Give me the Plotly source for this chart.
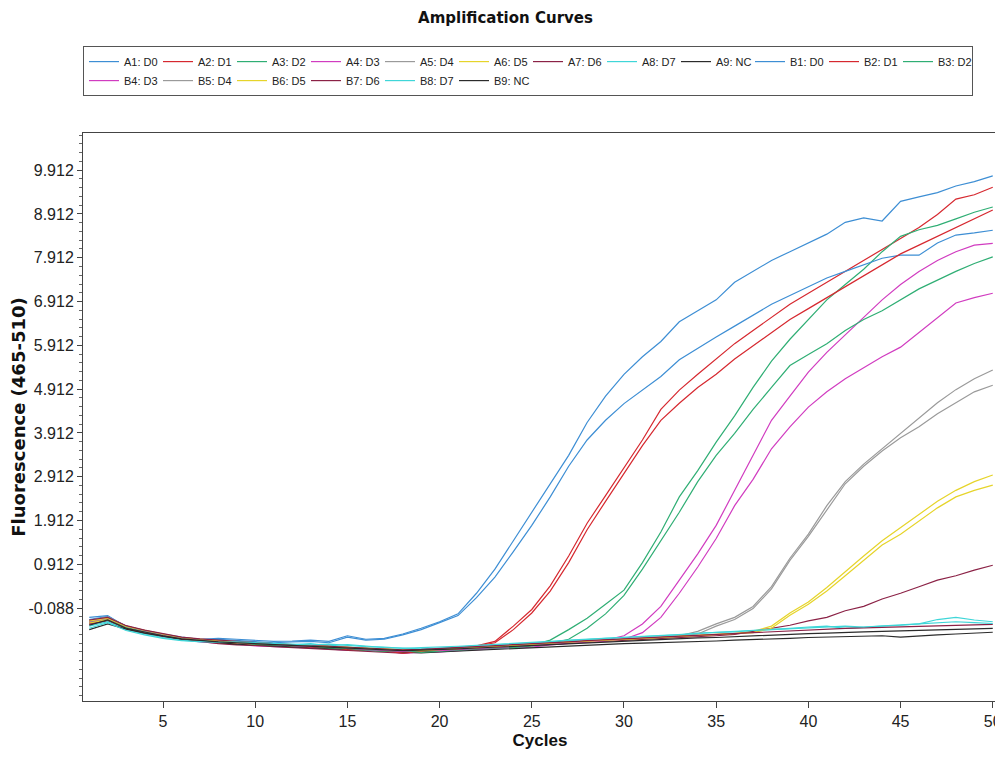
import plotly.graph_objects as go

cycles = list(range(1, 51))

names = ["A1: D0", "A2: D1", "A3: D2", "A4: D3", "A5: D4", "A6: D5", "A7: D6", "A8: D7", "A9: NC",
         "B1: D0", "B2: D1", "B3: D2", "B4: D3", "B5: D4", "B6: D5", "B7: D6", "B8: D7", "B9: NC"]

A1 = [-0.35,-0.28,-0.50,-0.60,-0.68,-0.75,-0.80,-0.78,-0.80,-0.82,-0.85,-0.84,-0.82,-0.85,-0.72,-0.80,-0.78,-0.68,-0.55,-0.40,
      -0.22,0.25,0.80,1.45,2.10,2.75,3.40,4.15,4.75,5.25,5.65,6.00,6.45,6.70,6.95,7.35,7.60,7.85,8.05,8.25,
      8.45,8.72,8.82,8.75,9.20,9.30,9.40,9.55,9.65,9.78]
A2 = [-0.42,-0.34,-0.55,-0.64,-0.72,-0.80,-0.85,-0.88,-0.92,-0.90,-0.95,-0.97,-0.94,-1.00,-1.02,-1.00,-1.08,-1.10,-1.05,-1.02,
      -0.98,-0.95,-0.85,-0.50,-0.12,0.42,1.10,1.85,2.48,3.10,3.75,4.45,4.89,5.25,5.60,5.95,6.25,6.55,6.85,7.10,
      7.35,7.60,7.85,8.10,8.35,8.60,8.90,9.25,9.35,9.52]
A3 = [-0.45,-0.36,-0.54,-0.63,-0.71,-0.79,-0.83,-0.87,-0.90,-0.91,-0.94,-0.96,-0.98,-0.99,-1.02,-1.04,-1.06,-1.09,-1.08,-1.07,
      -1.04,-1.03,-1.00,-0.98,-0.94,-0.82,-0.58,-0.32,0.00,0.32,0.95,1.65,2.45,3.05,3.70,4.30,4.95,5.55,6.05,6.50,
      6.95,7.30,7.65,8.05,8.40,8.55,8.65,8.80,8.95,9.07]
A4 = [-0.44,-0.35,-0.56,-0.65,-0.73,-0.80,-0.86,-0.89,-0.91,-0.95,-0.96,-0.98,-1.00,-1.02,-1.05,-1.03,-1.08,-1.12,-1.10,-1.09,
      -1.06,-1.04,-1.01,-0.99,-0.98,-0.93,-0.90,-0.86,-0.82,-0.72,-0.45,-0.05,0.55,1.15,1.80,2.60,3.40,4.20,4.75,5.30,
      5.75,6.15,6.55,6.95,7.30,7.60,7.85,8.05,8.20,8.24]
A5 = [-0.41,-0.33,-0.52,-0.62,-0.70,-0.78,-0.82,-0.85,-0.89,-0.90,-0.92,-0.95,-0.96,-0.98,-1.00,-1.01,-1.04,-1.06,-1.07,-1.03,
      -1.02,-0.99,-0.96,-0.94,-0.92,-0.89,-0.87,-0.84,-0.82,-0.80,-0.78,-0.76,-0.72,-0.62,-0.45,-0.30,-0.05,0.40,1.05,1.60,
      2.25,2.80,3.20,3.55,3.90,4.25,4.60,4.90,5.15,5.35]
A6 = [-0.43,-0.36,-0.55,-0.64,-0.72,-0.79,-0.84,-0.88,-0.90,-0.92,-0.95,-0.97,-0.99,-1.00,-1.03,-1.05,-1.07,-1.09,-1.08,-1.06,
      -1.03,-1.01,-0.98,-0.96,-0.93,-0.91,-0.88,-0.86,-0.84,-0.81,-0.79,-0.77,-0.74,-0.72,-0.70,-0.67,-0.62,-0.50,-0.20,0.05,
      0.38,0.75,1.10,1.45,1.75,2.05,2.35,2.60,2.80,2.95]
A7 = [-0.46,-0.38,-0.56,-0.66,-0.74,-0.81,-0.85,-0.90,-0.93,-0.94,-0.97,-0.99,-1.01,-1.03,-1.05,-1.07,-1.10,-1.12,-1.09,-1.07,
      -1.05,-1.02,-1.00,-0.97,-0.95,-0.92,-0.89,-0.87,-0.84,-0.82,-0.80,-0.78,-0.76,-0.74,-0.72,-0.69,-0.62,-0.55,-0.48,-0.38,
      -0.30,-0.15,-0.05,0.12,0.25,0.40,0.55,0.65,0.78,0.89]
A8 = [-0.50,-0.40,-0.58,-0.68,-0.76,-0.82,-0.86,-0.84,-0.87,-0.89,-0.91,-0.93,-0.90,-0.95,-0.92,-0.96,-0.99,-1.00,-1.02,-1.00,
      -0.97,-0.95,-0.93,-0.90,-0.88,-0.86,-0.83,-0.80,-0.78,-0.76,-0.74,-0.72,-0.70,-0.66,-0.65,-0.63,-0.60,-0.58,-0.55,-0.52,
      -0.50,-0.55,-0.52,-0.50,-0.48,-0.45,-0.35,-0.30,-0.36,-0.40]
A9 = [-0.58,-0.45,-0.57,-0.66,-0.73,-0.80,-0.84,-0.88,-0.91,-0.93,-0.95,-0.97,-0.99,-1.01,-1.03,-1.05,-1.08,-1.10,-1.11,-1.09,
      -1.07,-1.05,-1.03,-1.01,-0.99,-0.97,-0.95,-0.93,-0.92,-0.90,-0.89,-0.88,-0.86,-0.85,-0.84,-0.82,-0.81,-0.80,-0.78,-0.76,
      -0.75,-0.74,-0.73,-0.72,-0.75,-0.72,-0.70,-0.68,-0.66,-0.64]
B1 = [-0.30,-0.26,-0.52,-0.62,-0.70,-0.76,-0.82,-0.80,-0.83,-0.85,-0.88,-0.86,-0.85,-0.88,-0.75,-0.82,-0.80,-0.70,-0.58,-0.42,
      -0.26,0.15,0.62,1.20,1.80,2.45,3.15,3.75,4.20,4.58,4.90,5.20,5.58,5.85,6.10,6.35,6.60,6.85,7.05,7.25,
      7.45,7.60,7.75,7.90,7.97,7.97,8.25,8.43,8.48,8.54]
B2 = [-0.38,-0.30,-0.50,-0.60,-0.70,-0.78,-0.84,-0.86,-0.88,-0.93,-0.92,-0.95,-0.98,-0.97,-1.04,-1.03,-1.06,-1.12,-1.08,-1.04,
      -1.00,-0.96,-0.88,-0.58,-0.20,0.30,0.95,1.70,2.35,3.00,3.62,4.20,4.59,4.95,5.25,5.60,5.90,6.20,6.50,6.75,
      7.00,7.25,7.50,7.75,8.00,8.20,8.40,8.60,8.80,9.00]
B3 = [-0.40,-0.30,-0.53,-0.61,-0.70,-0.77,-0.81,-0.86,-0.87,-0.92,-0.93,-0.95,-0.95,-1.00,-1.01,-1.05,-1.07,-1.06,-1.10,-1.08,
      -1.05,-1.02,-1.01,-0.99,-0.95,-0.90,-0.80,-0.55,-0.22,0.20,0.80,1.45,2.10,2.80,3.40,3.90,4.45,4.95,5.45,5.70,
      5.95,6.25,6.50,6.70,6.95,7.20,7.40,7.60,7.78,7.93]
B4 = [-0.39,-0.31,-0.51,-0.60,-0.69,-0.76,-0.80,-0.85,-0.88,-0.89,-0.92,-0.94,-0.97,-0.96,-0.99,-1.04,-1.05,-1.08,-1.04,-1.06,
      -1.03,-1.01,-0.99,-0.96,-0.94,-0.91,-0.88,-0.86,-0.84,-0.80,-0.65,-0.30,0.25,0.85,1.50,2.25,2.85,3.55,4.05,4.50,
      4.85,5.15,5.40,5.65,5.87,6.20,6.55,6.88,7.00,7.10]
B5 = [-0.37,-0.29,-0.50,-0.61,-0.69,-0.77,-0.81,-0.84,-0.86,-0.88,-0.91,-0.93,-0.95,-0.97,-0.98,-1.02,-1.03,-1.05,-1.04,-1.03,
      -1.00,-0.98,-0.95,-0.93,-0.90,-0.88,-0.86,-0.83,-0.81,-0.79,-0.77,-0.75,-0.73,-0.68,-0.50,-0.35,-0.10,0.35,1.00,1.55,
      2.15,2.75,3.15,3.50,3.80,4.05,4.35,4.60,4.85,5.00]
B6 = [-0.38,-0.32,-0.51,-0.60,-0.68,-0.76,-0.80,-0.83,-0.87,-0.89,-0.91,-0.93,-0.94,-0.97,-0.99,-1.01,-1.03,-1.05,-1.06,-1.04,
      -1.01,-0.99,-0.97,-0.95,-0.92,-0.89,-0.87,-0.85,-0.83,-0.80,-0.78,-0.76,-0.73,-0.71,-0.69,-0.68,-0.65,-0.55,-0.25,0.00,
      0.30,0.65,1.00,1.35,1.60,1.90,2.20,2.45,2.60,2.72]
B7 = [-0.36,-0.30,-0.49,-0.59,-0.67,-0.75,-0.79,-0.82,-0.85,-0.88,-0.90,-0.92,-0.94,-0.95,-0.97,-1.00,-1.02,-1.04,-1.03,-1.01,
      -0.99,-0.97,-0.95,-0.92,-0.90,-0.88,-0.86,-0.83,-0.81,-0.79,-0.77,-0.75,-0.73,-0.71,-0.69,-0.67,-0.65,-0.62,-0.60,-0.58,
      -0.57,-0.55,-0.54,-0.53,-0.52,-0.50,-0.49,-0.48,-0.47,-0.46]
B8 = [-0.55,-0.42,-0.60,-0.70,-0.78,-0.83,-0.85,-0.87,-0.86,-0.88,-0.90,-0.92,-0.93,-0.91,-0.94,-0.97,-0.98,-1.01,-0.99,-0.98,
      -0.96,-0.94,-0.92,-0.90,-0.87,-0.85,-0.82,-0.80,-0.78,-0.75,-0.73,-0.71,-0.69,-0.67,-0.64,-0.62,-0.60,-0.58,-0.56,-0.53,
      -0.51,-0.50,-0.52,-0.49,-0.47,-0.45,-0.42,-0.40,-0.42,-0.44]
B9 = [-0.48,-0.36,-0.55,-0.64,-0.72,-0.79,-0.83,-0.86,-0.88,-0.90,-0.92,-0.94,-0.96,-0.98,-1.00,-1.02,-1.04,-1.06,-1.05,-1.04,
      -1.02,-1.00,-0.98,-0.96,-0.94,-0.92,-0.90,-0.88,-0.86,-0.84,-0.82,-0.81,-0.79,-0.77,-0.76,-0.74,-0.72,-0.70,-0.69,-0.67,
      -0.66,-0.64,-0.63,-0.62,-0.61,-0.60,-0.58,-0.57,-0.56,-0.55]

series = [A1, A2, A3, A4, A5, A6, A7, A8, A9, B1, B2, B3, B4, B5, B6, B7, B8, B9]

dye_colors = ["#3d8ed4", "#d6282f", "#2fae74", "#d13cc0", "#9a9a9a", "#e6d42a", "#8b2246", "#3fd6d8", "#2b2b2b"]
colors = dye_colors + dye_colors

y_tickvals = [-0.088, 0.912, 1.912, 2.912, 3.912, 4.912, 5.912, 6.912, 7.912, 8.912, 9.912]
y_ticktext = ["-0.088", "0.912", "1.912", "2.912", "3.912", "4.912", "5.912", "6.912", "7.912", "8.912", "9.912"]
x_tickvals = [5, 10, 15, 20, 25, 30, 35, 40, 45, 50]

SANS = "Liberation Sans, Arial, sans-serif"
BOLD_WIDE = "DejaVu Sans, Liberation Sans, Arial, sans-serif"

fig = go.Figure()
for name, ys, col in zip(names, series, colors):
    fig.add_trace(go.Scatter(x=cycles, y=ys, mode="lines", name=name,
                             line=dict(color=col, width=1.2)))

# the page body adds an 8px offset; the figure is sized so it ends at the window edges
fig.update_layout(
    width=995, height=750,
    paper_bgcolor="white", plot_bgcolor="white",
    margin=dict(l=75, r=6, t=125, b=57, autoexpand=False),
    title=dict(text="<b>Amplification Curves</b>", x=0.5, xref="container", xanchor="center",
               y=1 - 10 / 750, yref="container", yanchor="middle",
               font=dict(family=BOLD_WIDE, size=15, color="#111")),
    legend=dict(orientation="h", x=0, xanchor="left", y=1.153, yanchor="top",
                entrywidth=29, entrywidthmode="pixels",
                bordercolor="#555", borderwidth=1, bgcolor="white",
                font=dict(family=SANS, size=11, color="#222"),
                tracegroupgap=0, itemwidth=30),
    showlegend=True,
)

fig.update_xaxes(range=[0.66, 50.23], tickmode="array", tickvals=x_tickvals,
                 ticks="outside", ticklen=6, tickcolor="#444",
                 showline=True, linecolor="#444", linewidth=1, mirror=True,
                 showgrid=False, zeroline=False,
                 tickfont=dict(family=SANS, size=16, color="#222"),
                 title=dict(text="<b>Cycles</b>", standoff=4,
                            font=dict(family=SANS, size=17, color="#111")))
fig.update_yaxes(range=[-2.21, 10.76], tickmode="array", tickvals=y_tickvals, ticktext=y_ticktext,
                 ticks="outside", ticklen=5, tickcolor="#444",
                 minor=dict(tickmode="linear", tick0=-0.088, dtick=0.2, ticks="outside", ticklen=3, tickcolor="#666"),
                 showline=True, linecolor="#444", linewidth=1, mirror=True,
                 showgrid=False, zeroline=False,
                 tickfont=dict(family=SANS, size=16, color="#222"),
                 title=dict(text="<b>Fluorescence (465-510)</b>", standoff=10,
                            font=dict(family=BOLD_WIDE, size=18, color="#111")))

fig.write_html("out.html")
